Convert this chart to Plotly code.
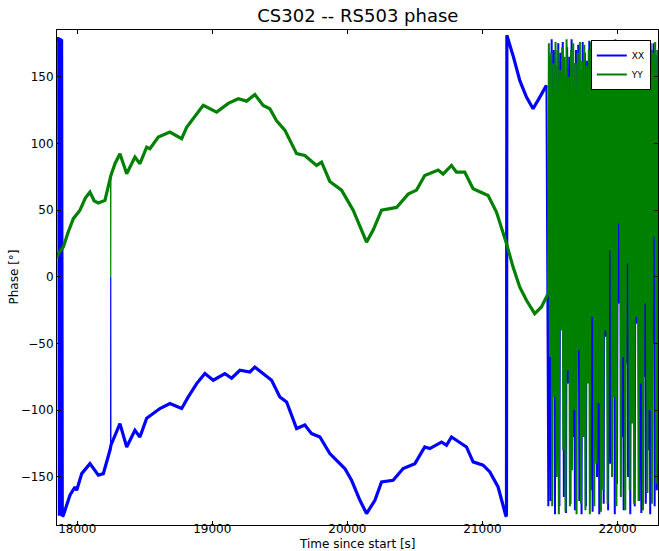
import plotly.graph_objects as go

# ---- data ----
# YY (green) smooth part: time [s], phase [deg]
yy_t = [17850, 17860, 17897, 17931, 17971, 18000, 18020, 18060, 18094, 18125, 18156, 18205,
        18230, 18247, 18249, 18280, 18316, 18366, 18400, 18427, 18464, 18514, 18538, 18600,
        18686, 18773, 18810, 18870, 18933, 19032, 19118, 19192, 19254, 19315, 19377, 19426,
        19476, 19537, 19624, 19685, 19772, 19809, 19870, 19957, 20043, 20105, 20142, 20191,
        20253, 20364, 20450, 20512, 20573, 20672, 20709, 20771, 20808, 20869, 20931, 21042,
        21104, 21178, 21227, 21276, 21326, 21387, 21437, 21486]
yy_v = [15, 17.4, 22.3, 33, 43.6, 47, 50, 59, 63.5, 57, 55.3, 57.3,
        67, 74.8, 76, 85, 92.3, 77.3, 85, 89.8, 84.8, 97.2, 96, 104.7,
        108.5, 103.5, 112, 120, 128.5, 123.5, 130, 133.5, 131.7, 136.7, 128.5, 126,
        117, 110, 92.3, 91, 83.5, 86, 71.5, 65, 50, 35, 26, 35,
        50, 52, 62, 65, 76, 80, 77, 83.5, 78.5, 78.5, 66, 61,
        48.5, 25, 7.3, -7.6, -17.6, -27.6, -22.6, -12.6]

# XX (blue) smooth part
xx_t = [17850, 17857, 17863, 17868, 17873, 17879, 17884, 17889, 17897, 17946, 17983, 17996,
        18033, 18094, 18156, 18193, 18242, 18250, 18316, 18366, 18427, 18464, 18514, 18612,
        18686, 18773, 18822, 18884, 18945, 19007, 19093, 19143, 19204, 19278, 19315, 19377,
        19439, 19500, 19550, 19624, 19685, 19735, 19797, 19870, 19981, 20031, 20093, 20142,
        20204, 20253, 20339, 20413, 20500, 20573, 20610, 20697, 20734, 20771, 20833, 20882,
        20931, 21005, 21055, 21116, 21173, 21176, 21178, 21181, 21230, 21277, 21326, 21375,
        21425, 21474]
xx_v = [176, 179.5, 177, -179, 179, -178, 178, -179.5, -178.7, -163.7, -157.5, -160,
        -147.5, -140, -148.7, -147.5, -130, -126, -110, -127.5, -115, -120, -106, -98.7,
        -95, -98.7, -90, -80, -72.5, -77.5, -72.5, -76, -70, -71.3, -67.6, -72.5,
        -77.5, -90, -93.8, -113.7, -111, -117.5, -120, -132.5, -143.7, -152.5, -167.5, -177.4,
        -167.5, -153.7, -152.5, -143.7, -140, -127.5, -128.7, -123.8, -126.2, -120, -123.8, -127.5,
        -138.7, -141.2, -146.2, -157.5, -179, 180, -179.5, 181, 164.7, 147, 134.7, 126,
        134.7, 143.5]

# single glitch sample (both polarisations drop to 0)
glitch_t = [18247, 18248, 18249]
xx_glitch = [-130, 0, -128]
yy_glitch = [74.8, 0, 76]

# fast-wrapping section at the end (sample interval in s)
osc_start = 21488
osc_dt = 8.2
xx_osc = [-172, 165, -168, 178, -60, 170, -178, 158, -95, 175, -172, 168, -40, 176, -165, 150,
          -177, 172, -80, 165, -170, 178, -120, 160, -175, 170, -50, 174, -168, 155, -178, 176,
          -90, 168, -172, 162, -30, 177, -160, 170, -176, 158, -70, 175, -150, 165, -178, 172,
          -110, 160, -170, 176, -45, 168, -175, 150, -140, 174, -85, 170, -178, 162, -155, 176,
          -20, 168, -120, 172, -175, 158, -65, 175, -150, 166, -178, 170, -100, 176, -172, 160,
          -35, 172, -168, 165, -177, 174, -75, 168, -170, 176, -130, 162, -178, 170, -50, 175,
          -172, 166, -160, 170]
yy_osc = [175, -60, 168, -172, 160, -90, 176, -150, 170, -178, 155, -40, 172, -130, 165, -176,
          178, -70, 150, -172, 170, -145, 175, -100, 160, -178, 168, -55, 176, -170, 162, -120,
          174, -175, 158, -80, 170, -178, 176, -30, 165, -172, 172, -140, 160, -95, 175, -176,
          168, -160, 172, -40, 176, -170, 165, 20, 174, -150, 170, -90, 178, -172, 160, 40,
          175, -165, 168, -60, 176, -175, 170, 10, 172, -160, 165, -110, 176, -170, 174, -30,
          168, -168, 175, -80, 170, -175, 176, -20, 165, -162, 172, -100, 175, -170, 168, 30,
          176, -155, 170, -140]

x_ticks = [18000, 19000, 20000, 21000, 22000]
y_ticks = [-150, -100, -50, 0, 50, 100, 150]

BLUE = "#0000ff"
GREEN = "#008000"

xx_osc_t = [xx_t[-1]] + [osc_start + osc_dt * i for i in range(len(xx_osc))]
yy_osc_t = [yy_t[-1]] + [osc_start + 4 + osc_dt * i for i in range(len(yy_osc))]

fig = go.Figure()
# XX first (drawn below YY)
fig.add_trace(go.Scatter(x=xx_t, y=xx_v, mode="lines", showlegend=False, legendgroup="XX",
                         line=dict(color=BLUE, width=3.2)))
fig.add_trace(go.Scatter(x=glitch_t, y=xx_glitch, mode="lines", showlegend=False, legendgroup="XX",
                         line=dict(color=BLUE, width=1.2)))
fig.add_trace(go.Scatter(x=xx_osc_t, y=[xx_v[-1]] + xx_osc, mode="lines", name="XX",
                         legendgroup="XX", line=dict(color=BLUE, width=2)))
fig.add_trace(go.Scatter(x=yy_t, y=yy_v, mode="lines", showlegend=False, legendgroup="YY",
                         line=dict(color=GREEN, width=3.2)))
fig.add_trace(go.Scatter(x=glitch_t, y=yy_glitch, mode="lines", showlegend=False, legendgroup="YY",
                         line=dict(color=GREEN, width=1.2)))
fig.add_trace(go.Scatter(x=yy_osc_t, y=[yy_v[-1]] + yy_osc, mode="lines", name="YY",
                         legendgroup="YY", line=dict(color=GREEN, width=2)))

axis_common = dict(showgrid=False, zeroline=False, showline=True, linecolor="black", linewidth=1,
                   mirror="ticks", ticks="inside", ticklen=4, tickcolor="black",
                   tickfont=dict(family="DejaVu Sans", size=12, color="black"))

fig.update_xaxes(range=[17850, 22300], tickvals=x_ticks, ticktext=[str(v) for v in x_ticks],
                 ticklabelstandoff=-7, **axis_common)
fig.update_yaxes(range=[-186, 185], tickvals=y_ticks, tickformat="d", **axis_common)

fig.update_layout(
    width=659, height=551,
    margin=dict(l=57, r=1, t=30, b=26),
    paper_bgcolor="white", plot_bgcolor="white",
    font=dict(family="DejaVu Sans", color="black"),
    title=dict(text="CS302 -- RS503 phase", x=0.543, xanchor="center",
               y=1 - 16 / 551, yanchor="middle", yref="container",
               font=dict(family="DejaVu Sans", size=18, color="black")),
    legend=dict(x=0.988, y=0.98, xanchor="right", yanchor="top",
                bgcolor="white", bordercolor="black", borderwidth=1,
                font=dict(family="DejaVu Sans", size=9, color="black"),
                tracegroupgap=0, itemwidth=30),
    annotations=[
        dict(text="Phase [°]", xref="paper", yref="paper", x=0, y=0.5,
             xanchor="center", yanchor="middle", xshift=-44, textangle=-90, showarrow=False,
             font=dict(family="DejaVu Sans", size=12, color="black")),
        dict(text="Time since start [s]", xref="paper", yref="paper", x=0.5, y=0,
             xanchor="center", yanchor="bottom", yshift=-27, showarrow=False, borderpad=0,
             font=dict(family="DejaVu Sans", size=12, color="black")),
    ],
)

fig.write_html("out.html")
